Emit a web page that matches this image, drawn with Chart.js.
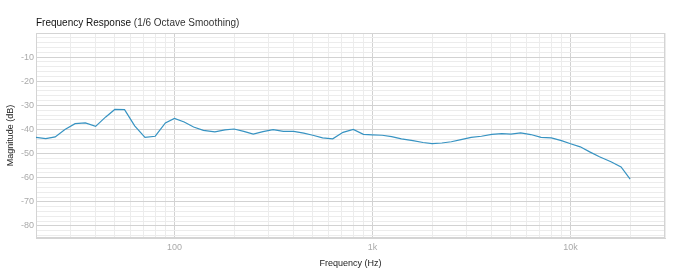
<!DOCTYPE html>
<html>
<head>
<meta charset="utf-8">
<script src="https://cdn.jsdelivr.net/npm/chart.js@4"></script>
<style>
  html, body { margin: 0; padding: 0; background: #fff; }
  #wrap { width: 675px; height: 280px; }
</style>
</head>
<body>
<div id="wrap"><canvas id="frChart"></canvas></div>
<script>
// 1/6 octave centre frequencies (Hz)
var freqs = [20, 22.4, 25, 28, 31.5, 35.5, 40, 45, 50, 56, 63, 71, 80, 90,
  100, 112, 125, 140, 160, 180, 200, 224, 250, 280, 315, 355, 400, 450, 500, 560, 630, 710, 800, 900,
  1000, 1120, 1250, 1400, 1600, 1800, 2000, 2240, 2500, 2800, 3150, 3550, 4000, 4500, 5000, 5600, 6300, 7100, 8000, 9000,
  10000, 11200, 12500, 14000, 16000, 18000, 20000];
// magnitude (dB)
var magnitude = [-43.3, -43.8, -43.1, -40.0, -37.6, -37.3, -38.7, -34.8, -31.7, -31.8, -38.5, -43.3, -42.8, -37.3,
  -35.4, -36.9, -39.0, -40.4, -41.0, -40.2, -39.8, -40.8, -41.9, -40.9, -40.1, -40.8, -40.8, -41.5, -42.4, -43.5, -43.9, -41.2, -40.0, -42.0,
  -42.2, -42.4, -43.0, -43.9, -44.6, -45.4, -45.9, -45.6, -45.1, -44.2, -43.3, -42.8, -42.0, -41.7, -41.9, -41.4, -42.1, -43.3, -43.5, -44.6,
  -45.9, -47.2, -49.3, -51.3, -53.4, -55.5, -60.6];

var xLabels = { 100: "100", 1000: "1k", 10000: "10k" };
var yLabels = [-10, -20, -30, -40, -50, -60, -70, -80];

// gridline positions
var xGrid = [];
[10, 100, 1000, 10000].forEach(function (d) {
  for (var m = 1; m <= 9; m++) {
    var v = d * m;
    if (v >= 20 && v <= 30000) xGrid.push(v);
  }
});
var yGrid = [];
for (var g = -84; g <= 0; g += 2) yGrid.push(g);

var points = freqs.map(function (f, i) { return { x: f, y: magnitude[i] }; });

var titlePlugin = {
  id: "titleParts",
  beforeDatasetsDraw: function (chart) {
    var a = chart.chartArea, c = chart.ctx;
    c.save();
    c.strokeStyle = "#d4d4d4";
    c.lineWidth = 1;
    c.strokeRect(a.left + 0.5, a.top + 0.5, a.right - a.left - 1, a.bottom - a.top - 1);
    c.restore();
  },
  afterDraw: function (chart) {
    var c = chart.ctx;
    c.save();
    c.textBaseline = "alphabetic";
    c.font = "10px 'Liberation Sans', Arial, sans-serif";
    c.fillStyle = "#111";
    var first = "Frequency Response ";
    c.fillText(first, 36, 26);
    var w = c.measureText(first).width;
    c.fillStyle = "#333";
    c.fillText("(1/6 Octave Smoothing)", 36 + w, 26);
    c.restore();
  }
};

var ctx = document.getElementById("frChart").getContext("2d");
var frChart = new Chart(ctx, {
  type: "line",
  data: {
    datasets: [
      {
        label: "Magnitude",
        data: points,
        borderColor: "#3793c2",
        borderWidth: 1.2,
        pointRadius: 0,
        tension: 0,
        fill: false,
      },
    ],
  },
  plugins: [titlePlugin],
  options: {
    responsive: true,
    maintainAspectRatio: false,
    animation: false,
    layout: { padding: { top: 33, right: 10, left: 0, bottom: 0 } },
    plugins: {
      legend: { display: false },
      tooltip: { enabled: false },
    },
    scales: {
      x: {
        type: "logarithmic",
        min: 20,
        max: 30000,
        afterBuildTicks: function (scale) {
          scale.ticks = xGrid.map(function (v) { return { value: v }; });
        },
        afterFit: function (scale) { scale.height = 42; },
        ticks: {
          autoSkip: false,
          maxRotation: 0,
          padding: 4,
          color: "#aaa",
          font: { size: 9, family: "'Liberation Sans', Arial, sans-serif" },
          callback: function (v) { return xLabels[v] || ""; },
        },
        grid: {
          drawTicks: false,
          color: function (c) {
            var v = c.tick ? c.tick.value : 0;
            return xLabels[v] ? "#d2d2d2" : "#ececec";
          },
        },
        border: { color: "#d4d4d4" },
        title: {
          display: true,
          text: "Frequency (Hz)",
          color: "#222",
          font: { size: 9, family: "'Liberation Sans', Arial, sans-serif" },
          padding: { top: 11, bottom: 11 },
        },
      },
      y: {
        min: -85,
        max: 0,
        afterBuildTicks: function (scale) {
          scale.ticks = yGrid.map(function (v) { return { value: v }; });
        },
        afterFit: function (scale) { scale.width = 36; },
        ticks: {
          autoSkip: false,
          padding: 2,
          color: "#aaa",
          font: { size: 9, family: "'Liberation Sans', Arial, sans-serif" },
          callback: function (v) { return yLabels.indexOf(v) >= 0 ? String(v) : ""; },
        },
        grid: {
          drawTicks: false,
          color: function (c) {
            var v = c.tick ? c.tick.value : 0;
            return v % 10 === 0 ? "#d2d2d2" : "#ececec";
          },
        },
        border: { color: "#d4d4d4" },
        title: {
          display: true,
          text: "Magnitude (dB)",
          color: "#222",
          font: { size: 9, family: "'Liberation Sans', Arial, sans-serif" },
          padding: { top: 5, bottom: 5 },
        },
      },
    },
  },
});
</script>
</body>
</html>
